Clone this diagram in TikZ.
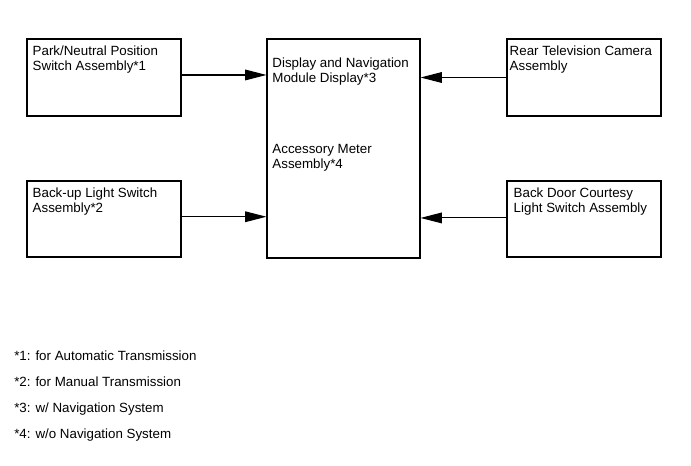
\documentclass[tikz,border=0pt]{standalone}
\usepackage{fontspec}
\setmainfont{Liberation Sans}
\usetikzlibrary{arrows.meta, positioning, fit}
\tikzset{unit/.style={draw, line width=0.8pt, inner sep=0pt}}
\tikzset{label text/.style={inner sep=0pt, align=left, font=\fontsize{10}{11.25}\selectfont}}
\tikzset{signal/.style={line width=0.8pt, -{Triangle[length=16pt, width=8pt]}}}

\begin{document}
\begin{tikzpicture}[x=0.75pt, y=-0.75pt]
            \useasboundingbox (0,0) rectangle (691,465);
            \node[unit, fit={(27,39) (181,116)}] (pnp) {};
            \node[unit, fit={(27,181) (181,257)}] (bls) {};
            \node[unit, fit={(267,39) (420,258)}] (dnm) {};
            \node[unit, fit={(507,39) (661,116)}] (rtc) {};
            \node[unit, fit={(507,181) (661,257)}] (bdc) {};
            \node[label text, below right=5.25pt and 4.5pt of pnp.north west] (pnp text) {Park/Neutral Position\\Switch Assembly*1};
            \node[label text, below right=5pt and 4.5pt of bls.north west] (bls text) {Back-up Light Switch\\Assembly*2};
            \node[label text, below right=14.6pt and 4.3pt of dnm.north west] (dnm text) {Display and Navigation\\Module Display*3};
            \node[label text, below right=78.9pt and 4.3pt of dnm.north west] (meter text) {Accessory Meter\\Assembly*4};
            \node[label text, below right=5.25pt and 2.25pt of rtc.north west] (rtc text) {Rear Television Camera\\Assembly};
            \node[label text, below right=5pt and 5.25pt of bdc.north west] (bdc text) {Back Door Courtesy\\Light Switch Assembly};
            \draw[signal] ([yshift=1.9pt]pnp.east) -- ([yshift=1.9pt]pnp.east -| dnm.west);
            \draw[signal] ([yshift=1.7pt]bls.east) -- ([yshift=1.7pt]bls.east -| dnm.west);
            \draw[signal] (rtc.west) -- (rtc.west -| dnm.east);
            \draw[signal] ([yshift=0.8pt]bdc.west) -- ([yshift=0.8pt]bdc.west -| dnm.east);
            \foreach \n/\note in {1/{for Automatic Transmission}, 2/{for Manual Transmission}, 3/{w/ Navigation System}, 4/{w/o Navigation System}} {
                \node[label text, anchor=base west] (note\n) at (14, 334+26*\n) {*\n: \note};
            }
        \end{tikzpicture}
\end{document}
